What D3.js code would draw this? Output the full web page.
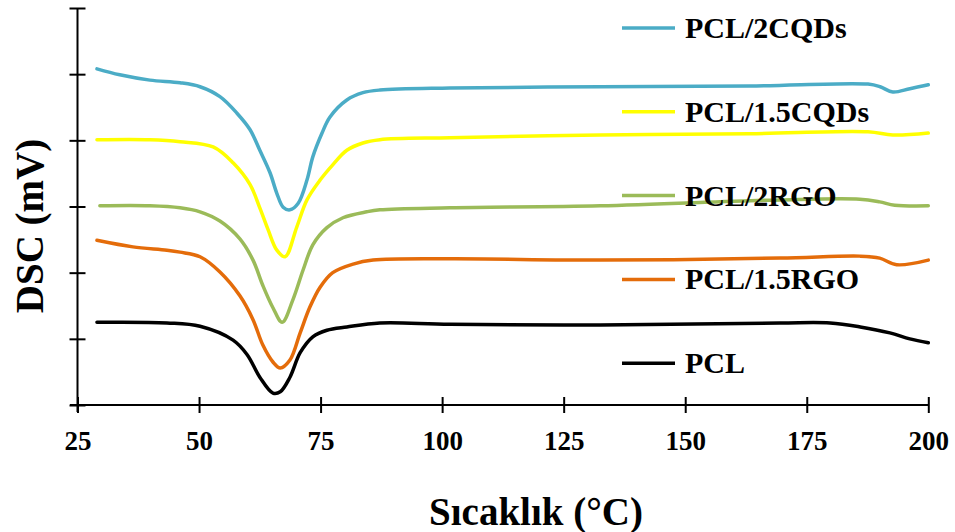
<!DOCTYPE html>
<html>
<head>
<meta charset="utf-8">
<script src="https://cdnjs.cloudflare.com/ajax/libs/d3/7.8.5/d3.min.js"></script>
<style>
  body { margin: 0; background: #fff; }
  text { font-family: "Liberation Serif", "Times New Roman", serif; font-weight: bold; }
</style>
</head>
<body>
<div id="chart"></div>
<script>
// series names and colors (legend order, top to bottom)
var seriesNames = ['PCL/2CQDs', 'PCL/1.5CQDs', 'PCL/2RGO', 'PCL/1.5RGO', 'PCL'];
var seriesColors = ['#4bacc6', '#ffff00', '#9bbb59', '#e46c0a', '#000000'];
var xTicks = [25, 50, 75, 100, 125, 150, 175, 200];

// temperatures (°C) and DSC signal (offset, arbitrary mV units)
var tCQD2 = [29.0, 33.7, 39.9, 46.1, 50.2, 54.3, 57.8, 60.5, 62.5, 64.6, 66.0, 67.3, 68.7, 70.4, 72.2, 73.4, 75.3, 76.9, 80.4, 83.7, 87.2, 101.6, 132.5, 163.3, 187.6, 190.1, 192.7, 196.2, 200];
var vCQD2 = [5.08, 4.99, 4.91, 4.87, 4.81, 4.66, 4.41, 4.16, 3.85, 3.51, 3.20, 2.99, 2.95, 3.05, 3.40, 3.75, 4.11, 4.35, 4.61, 4.72, 4.76, 4.79, 4.81, 4.82, 4.85, 4.81, 4.73, 4.78, 4.84];

var tCQD15 = [29.0, 39.9, 46.1, 52.9, 57.0, 60.5, 62.5, 64.2, 66.0, 67.7, 70.1, 72.2, 74.9, 77.5, 80.4, 83.7, 87.2, 101.6, 132.5, 163.3, 187.6, 192.7, 200];
var vCQD15 = [4.01, 4.01, 3.98, 3.90, 3.66, 3.33, 2.98, 2.65, 2.34, 2.24, 2.69, 3.10, 3.40, 3.63, 3.85, 3.96, 4.01, 4.04, 4.08, 4.10, 4.13, 4.08, 4.11];

var tRGO2 = [29.6, 39.9, 46.1, 50.2, 54.3, 58.4, 61.1, 63.1, 65.2, 67.1, 69.3, 71.4, 73.4, 76.3, 79.6, 84.5, 87.2, 101.6, 132.5, 169.5, 185.9, 190.0, 193.1, 200];
var vRGO2 = [3.01, 3.01, 2.98, 2.92, 2.78, 2.51, 2.19, 1.81, 1.47, 1.25, 1.59, 2.04, 2.42, 2.68, 2.83, 2.92, 2.95, 2.98, 3.01, 3.10, 3.11, 3.07, 3.02, 3.01];

var tRGO15 = [29.0, 36.4, 43.4, 46.1, 50.2, 54.3, 58.4, 61.1, 63.1, 65.2, 66.7, 68.7, 70.8, 72.8, 74.9, 77.5, 81.7, 85.8, 101.6, 132.5, 169.5, 185.9, 190.0, 193.5, 200];
var vRGO15 = [2.49, 2.39, 2.34, 2.31, 2.24, 2.01, 1.65, 1.29, 0.91, 0.65, 0.56, 0.68, 1.09, 1.48, 1.78, 2.00, 2.13, 2.19, 2.21, 2.19, 2.22, 2.25, 2.22, 2.12, 2.19];

var tPCL = [29.0, 43.4, 50.2, 57.0, 59.9, 62.5, 65.2, 66.7, 68.7, 70.8, 73.4, 76.3, 80.4, 87.2, 101.6, 132.5, 169.5, 179.8, 186.0, 192.1, 196.2, 200];
var vPCL = [1.25, 1.24, 1.19, 0.98, 0.76, 0.42, 0.18, 0.20, 0.42, 0.79, 1.03, 1.13, 1.18, 1.24, 1.22, 1.21, 1.24, 1.24, 1.18, 1.09, 1.00, 0.94];

var seriesT = [tCQD2, tCQD15, tRGO2, tRGO15, tPCL];
var seriesV = [vCQD2, vCQD15, vRGO2, vRGO15, vPCL];

var width = 955, height = 532;

var svg = d3.select('#chart')
  .append('svg')
  .attr('width', width)
  .attr('height', height);

var x = d3.scaleLinear().domain([25, 200]).range([77.5, 928.3]);
var y = d3.scaleLinear().domain([0, 6]).range([405, 8]);

// x axis - ticks cross the line
var xAxis = svg.append('g')
  .attr('transform', 'translate(0,405)')
  .call(d3.axisBottom(x).tickValues(xTicks).tickSizeInner(8).tickSizeOuter(0).tickPadding(18));
xAxis.select('.domain').attr('d', 'M70,0H928.3').attr('stroke', '#000').attr('stroke-width', 2);
xAxis.selectAll('.tick line').attr('y1', -8).attr('stroke-width', 2);
xAxis.selectAll('.tick text').style('font-size', '27px').attr('fill', '#000');

// y axis - no labels
var yAxis = svg.append('g')
  .attr('transform', 'translate(77.5,0)')
  .call(d3.axisLeft(y).ticks(6).tickSizeInner(8).tickSizeOuter(0).tickFormat(''));
yAxis.select('.domain').attr('d', 'M0,8V412').attr('stroke', '#000').attr('stroke-width', 2);
yAxis.selectAll('.tick line').attr('x1', 8).attr('x2', -8).attr('stroke-width', 2);

// the curves (catmull-rom keeps the dips rounded)
var line = d3.line()
  .x(function (d) { return x(d[0]); })
  .y(function (d) { return y(d[1]); })
  .curve(d3.curveCatmullRom.alpha(0.5));

// draw bottom series first so the upper ones sit on top
for (var i = seriesNames.length - 1; i >= 0; i--) {
  var pts = d3.zip(seriesT[i], seriesV[i]);
  svg.append('path')
    .datum(pts)
    .attr('d', line)
    .attr('fill', 'none')
    .attr('stroke', seriesColors[i])
    .attr('stroke-width', 3.5)
    .attr('stroke-linejoin', 'round')
    .attr('stroke-linecap', 'round');
}

// legend
var legend = svg.selectAll('.legend')
  .data(seriesNames)
  .enter()
  .append('g')
  .attr('class', 'legend')
  .attr('transform', function (d, i) { return 'translate(622,' + (28 + i * 83.8) + ')'; });

legend.append('line')
  .attr('x1', 0).attr('x2', 53)
  .attr('stroke', function (d, i) { return seriesColors[i]; })
  .attr('stroke-width', 3.5);

legend.append('text')
  .attr('x', 63)
  .attr('y', 10)
  .style('font-size', '30px')
  .text(function (d) { return d; });

// axis titles
svg.append('text')
  .attr('x', 536)
  .attr('y', 525)
  .attr('text-anchor', 'middle')
  .style('font-size', '39px')
  .text('Sıcaklık (°C)');

svg.append('text')
  .attr('transform', 'translate(43,226) rotate(-90)')
  .attr('text-anchor', 'middle')
  .style('font-size', '39px')
  .text('DSC (mV)');
</script>
</body>
</html>
